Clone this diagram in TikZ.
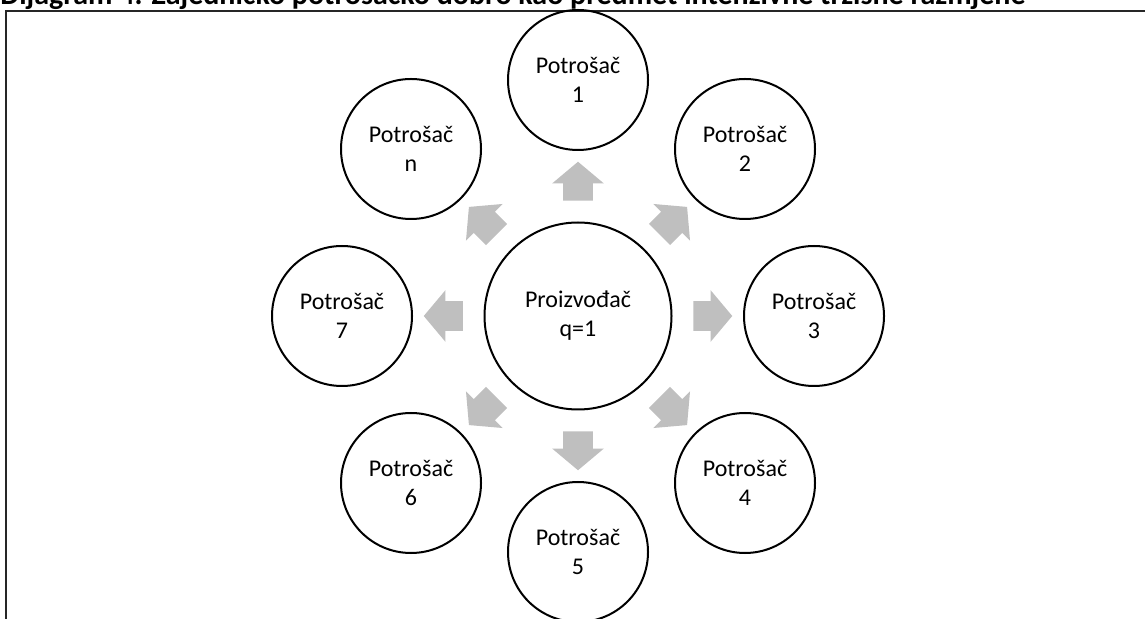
\documentclass[tikz,border=0pt]{standalone}
\usepackage{fontspec}
\setmainfont{Carlito}
\usetikzlibrary{calc,shapes.arrows}
\definecolor{arrowgray}{RGB}{191,191,191}

\begin{document}
\begin{tikzpicture}
        [x=0.5pt,y=-0.5pt,
          nodedecorate/.style={shape=circle,draw,line width=1pt,minimum size=70pt,
            inner sep=0pt,align=center,font=\fontsize{12}{14.5}\selectfont},%
          arrowdecorate/.style={shape=single arrow,fill=arrowgray,draw=none,
            inner xsep=0pt,inner ysep=7.25pt,minimum height=19.5pt,
            single arrow head extend=5.5pt,single arrow tip angle=100}]
        %% frame and title
        \clip (0,0) rectangle (1145,619);
        \node (title) at (0,4.5) [anchor=base west,inner sep=0pt,
          font=\bfseries\fontsize{15}{18}\selectfont]
          {Dijagram 4. Zajedničko potrošačko dobro kao predmet intenzivne tržišne razmjene};
        \draw[line width=0.75pt,black!85] (6,11) rectangle (1160,640);
        %% producer in the middle
        \node (prod) at (578,316) [nodedecorate,minimum size=93.5pt] {Proizvođač\\q=1};
        %% consumers round it
        \foreach \nodename/\x/\y in {1/578/80, 2/745/149, 3/814/316, 4/745/483,
          5/578/552, 6/411/483, 7/342/316, n/411/149}
        {
          \node (c\nodename) at (\x,\y) [nodedecorate] {Potrošač\\\nodename};
        }
        %% block arrows from producer to consumers
        \foreach \nodename/\angle in {1/90, 2/45, 3/0, 4/-45, 5/-90, 6/-135,
          7/180, n/135}
        {
          \node (a\nodename) at ($(prod)!64.25pt!(c\nodename)$)
            [arrowdecorate,rotate=\angle] {};
        }
        \end{tikzpicture}
\end{document}
